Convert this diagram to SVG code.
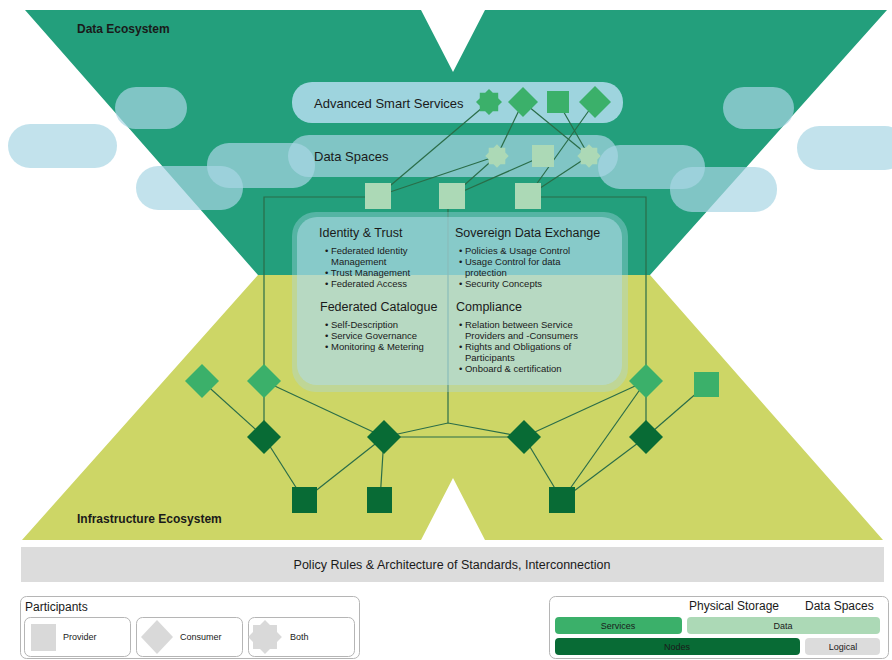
<svg xmlns="http://www.w3.org/2000/svg" xmlns:xlink="http://www.w3.org/1999/xlink" width="892" height="660" viewBox="0 0 892 660">
<style>
text{font-family:"Liberation Sans",Arial,sans-serif;fill:#1a1a1a}
.eco{font-size:12px;font-weight:bold}
.pilltxt{font-size:13px}
.head{font-size:12.5px}
.bul{font-size:9.5px}
.pill{fill:#a8d6e4;opacity:0.7}
.conn line,.conn polyline{stroke:#2a6d48;stroke-width:1.2;fill:none}
.med{fill:#3bb06a}
.dark{fill:#086b35}
.light{fill:#acd9b6}
.leg{fill:#fff;stroke:#b5b5b5;stroke-width:1}
.icon{fill:#d9d9d9}
.small{font-size:9px}
</style>
<defs>
<polygon id="star" points="13,0 9.24,3.83 9.19,9.19 3.83,9.24 0,13 -3.83,9.24 -9.19,9.19 -9.24,3.83 -13,0 -9.24,-3.83 -9.19,-9.19 -3.83,-9.24 0,-13 3.83,-9.24 9.19,-9.19 9.24,-3.83"/>
</defs>
<rect width="892" height="660" fill="#fff"/>
<!-- background X -->
<g id="background">
<polygon points="25,10 421,10 453,72 485,10 887,10 650,275 258,275" fill="#239f7c"/>
<polygon points="258,275 650,275 883,540 485,540 453,478 421,540 22,540" fill="#cdd666"/>
<text class="eco" x="77" y="33">Data Ecosystem</text>
<text class="eco" x="77" y="523">Infrastructure Ecosystem</text>
</g>
<!-- clouds / pills -->
<g id="clouds">
<rect class="pill" x="115" y="87" width="72" height="42" rx="21"/>
<rect class="pill" x="8" y="124" width="109" height="44" rx="22"/>
<rect class="pill" x="207" y="143" width="108" height="45" rx="22"/>
<rect class="pill" x="136" y="166" width="107" height="44" rx="22"/>
<rect class="pill" x="723" y="87" width="71" height="42" rx="21"/>
<rect class="pill" x="797" y="126" width="110" height="44" rx="22"/>
<rect class="pill" x="598" y="145" width="107" height="44" rx="22"/>
<rect class="pill" x="670" y="167" width="107" height="45" rx="22"/>
</g>
<g id="data-spaces">
<rect class="pill" x="288" y="135" width="330" height="42" rx="21"/>
<text class="pilltxt" x="314" y="161">Data Spaces</text>
</g>
<g id="advanced-smart-services">
<rect x="292" y="82" width="331" height="41" rx="20" fill="#a8d8e5" opacity="0.93"/>
<text class="pilltxt" x="314" y="108">Advanced Smart Services</text>
</g>
<!-- connectors -->
<g id="connectors" class="conn">
<line x1="489" y1="102" x2="378" y2="196"/>
<line x1="523" y1="102" x2="497" y2="156"/>
<line x1="523" y1="102" x2="589" y2="156"/>
<line x1="558" y1="102" x2="589" y2="156"/>
<line x1="595" y1="102" x2="528" y2="196"/>
<line x1="497" y1="156" x2="378" y2="196"/>
<line x1="497" y1="156" x2="452" y2="196"/>
<line x1="543" y1="156" x2="452" y2="196"/>
<line x1="589" y1="156" x2="528" y2="196"/>
<polyline points="378,197 264,197 264,381"/>
<polyline points="528,197 646,197 646,381"/>
<line x1="448" y1="196" x2="448" y2="423"/>
<polyline points="384,437 448,423 524,437"/>
<line x1="384" y1="437" x2="524" y2="437"/>
<line x1="202" y1="381" x2="264" y2="437"/>
<line x1="264" y1="381" x2="264" y2="437"/>
<line x1="264" y1="381" x2="384" y2="437"/>
<line x1="264" y1="437" x2="304" y2="500"/>
<line x1="384" y1="437" x2="304" y2="500"/>
<line x1="384" y1="437" x2="380" y2="500"/>
<line x1="524" y1="437" x2="646" y2="381"/>
<line x1="646" y1="381" x2="646" y2="437"/>
<line x1="646" y1="381" x2="562" y2="500"/>
<line x1="524" y1="437" x2="562" y2="500"/>
<line x1="646" y1="437" x2="562" y2="500"/>
<line x1="706" y1="385" x2="646" y2="437"/>
</g>
<!-- central functions box -->
<g id="functions-box">
<rect x="292" y="212" width="336" height="180" rx="24" fill="#a8d8e4" opacity="0.38"/>
<rect x="297" y="217" width="325" height="168" rx="20" fill="#b0dde8" opacity="0.55"/>
<text class="head" x="319" y="237">Identity &amp; Trust</text>
<text class="bul" x="325" y="254">• Federated Identity</text>
<text class="bul" x="331" y="265">Management</text>
<text class="bul" x="325" y="276">• Trust Management</text>
<text class="bul" x="325" y="287">• Federated Access</text>
<text class="head" x="455" y="237">Sovereign Data Exchange</text>
<text class="bul" x="459" y="254">• Policies &amp; Usage Control</text>
<text class="bul" x="459" y="265">• Usage Control for data</text>
<text class="bul" x="465" y="276">protection</text>
<text class="bul" x="459" y="287">• Security Concepts</text>
<text class="head" x="320" y="311">Federated Catalogue</text>
<text class="bul" x="325" y="328">• Self-Description</text>
<text class="bul" x="325" y="339">• Service Governance</text>
<text class="bul" x="325" y="350">• Monitoring &amp; Metering</text>
<text class="head" x="456" y="311">Compliance</text>
<text class="bul" x="459" y="328">• Relation between Service</text>
<text class="bul" x="465" y="339">Providers and -Consumers</text>
<text class="bul" x="459" y="350">• Rights and Obligations of</text>
<text class="bul" x="465" y="361">Participants</text>
<text class="bul" x="459" y="372">• Onboard &amp; certification</text>
</g>
<!-- nodes: advanced smart services -->
<g id="ass-star"><use href="#star" xlink:href="#star" class="med" transform="translate(489,102)"/></g>
<g id="ass-diamond1"><polygon class="med" points="523,87 538,102 523,117 508,102"/></g>
<g id="ass-square"><rect class="med" x="547" y="91" width="22" height="22"/></g>
<g id="ass-diamond2"><polygon class="med" points="595,86 611,102 595,118 579,102"/></g>
<!-- nodes: data spaces -->
<g id="ds-star1"><use href="#star" xlink:href="#star" class="light" transform="translate(497,156) scale(0.9)"/></g>
<g id="ds-square"><rect class="light" x="532" y="145" width="22" height="22"/></g>
<g id="ds-star2"><use href="#star" xlink:href="#star" class="light" transform="translate(589,156) scale(0.9)"/></g>
<!-- nodes: data -->
<g id="data1"><rect class="light" x="365" y="183" width="26" height="26"/></g>
<g id="data2"><rect class="light" x="439" y="183" width="26" height="26"/></g>
<g id="data3"><rect class="light" x="515" y="183" width="26" height="26"/></g>
<!-- nodes: infrastructure -->
<g id="svc-a"><polygon class="med" points="202,364 219,381 202,398 185,381"/></g>
<g id="svc-b"><polygon class="med" points="264,364 281,381 264,398 247,381"/></g>
<g id="node-c"><polygon class="dark" points="264,420 281,437 264,454 247,437"/></g>
<g id="node-d"><polygon class="dark" points="384,420 401,437 384,454 367,437"/></g>
<g id="node-e"><rect class="dark" x="292" y="487" width="25" height="26"/></g>
<g id="node-f"><rect class="dark" x="367" y="487" width="25" height="26"/></g>
<g id="svc-g"><polygon class="med" points="646,364 663,381 646,398 629,381"/></g>
<g id="svc-h"><rect class="med" x="694" y="372" width="25" height="25"/></g>
<g id="node-i"><polygon class="dark" points="524,420 541,437 524,454 507,437"/></g>
<g id="node-j"><polygon class="dark" points="646,420 663,437 646,454 629,437"/></g>
<g id="node-k"><rect class="dark" x="549" y="487" width="26" height="26"/></g>
<!-- policy bar -->
<g id="policy-bar">
<rect x="21" y="547" width="863" height="35" fill="#dcdcdc"/>
<text x="452" y="569" font-size="12.5" text-anchor="middle">Policy Rules &amp; Architecture of Standards, Interconnection</text>
</g>
<!-- legend: participants -->
<g id="legend-participants">
<rect class="leg" x="20.5" y="596.5" width="339" height="62" rx="6"/>
<text x="25" y="611" font-size="12">Participants</text>
<rect class="leg" x="24.5" y="617.5" width="106" height="39" rx="6"/>
<rect class="icon" x="31" y="624" width="25" height="27"/>
<text class="small" x="63" y="640">Provider</text>
<rect class="leg" x="136.5" y="617.5" width="106" height="39" rx="6"/>
<polygon class="icon" points="157,620 173,637 157,654 141,637"/>
<text class="small" x="180" y="640">Consumer</text>
<rect class="leg" x="248.5" y="617.5" width="106" height="39" rx="6"/>
<use href="#star" xlink:href="#star" class="icon" transform="translate(265,637) scale(1.3)"/>
<text class="small" x="290" y="640">Both</text>
</g>
<!-- legend: layers -->
<g id="legend-layers">
<rect class="leg" x="549.5" y="596.5" width="339" height="62" rx="6"/>
<text x="689" y="610" font-size="12">Physical Storage</text>
<text x="805" y="610" font-size="12">Data Spaces</text>
<rect class="med" x="555" y="617" width="127" height="17" rx="4"/>
<text class="small" x="618" y="629" text-anchor="middle">Services</text>
<rect class="light" x="687" y="617" width="193" height="17" rx="4"/>
<text class="small" x="783" y="629" text-anchor="middle">Data</text>
<rect class="dark" x="555" y="638" width="245" height="17" rx="4"/>
<text class="small" x="677" y="650" text-anchor="middle">Nodes</text>
<rect x="805" y="638" width="75" height="17" rx="4" fill="#dcdcdc"/>
<text class="small" x="843" y="650" text-anchor="middle">Logical</text>
</g>
</svg>
